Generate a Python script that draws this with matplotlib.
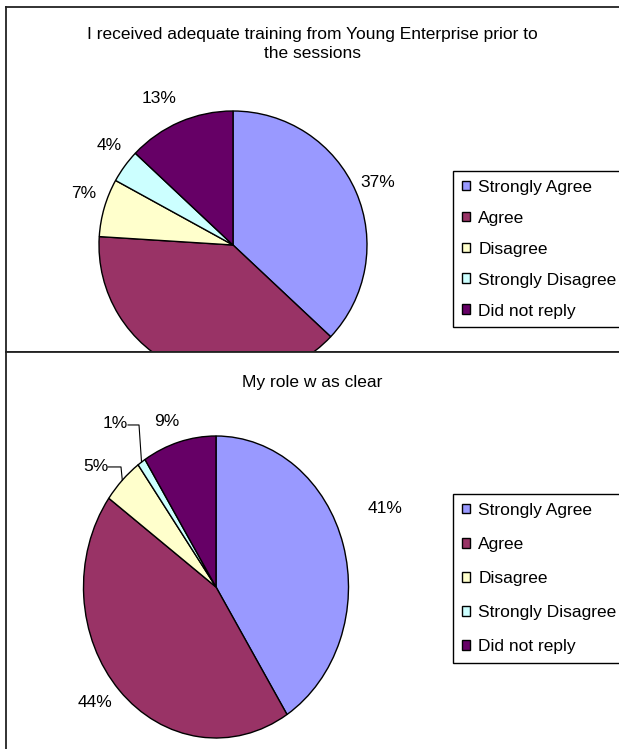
import matplotlib
matplotlib.use('Agg')
from matplotlib import pyplot as plt
import numpy as np

plt.rcParams['font.family'] = ['Liberation Sans', 'DejaVu Sans']

categories = ['Strongly Agree', 'Agree', 'Disagree', 'Strongly Disagree', 'Did not reply']
colors = ['#9999ff', '#993366', '#ffffcc', '#ccffff', '#660066']

title1 = 'I received adequate training from Young Enterprise prior to\nthe sessions'
values1 = [37, 39, 7, 4, 13]

title2 = 'My role w as clear'
values2 = [41, 44, 5, 1, 9]

W, H = 619, 749
FS = 12.5
fig = plt.figure(figsize=(W / 100, H / 100), dpi=100)


def px_axes(x0, y0, x1, y1):
    return fig.add_axes([x0 / W, 1 - y1 / H, (x1 - x0) / W, (y1 - y0) / H])


def edge_point(values, i):
    # point on the rim at the middle of slice i (clockwise from 12 o'clock)
    frac = (sum(values[:i]) + values[i] / 2) / sum(values)
    a = 2 * np.pi * frac
    return np.sin(a), np.cos(a)


def panel(box, centre, radii, values, title, title_y, label_pos, leaders,
          leg_top, leg_spacing):
    x0, y0, x1, y1 = box
    cx, cy = centre
    rx, ry = radii
    ax = px_axes(x0, y0, x1, y1)
    wedges, _ = ax.pie(values, colors=colors, startangle=90, counterclock=False,
                       radius=1, frame=True,
                       wedgeprops=dict(edgecolor='black', linewidth=1))
    ax.set_aspect('auto')
    ax.set_xlim((x0 - cx) / rx, (x1 - cx) / rx)
    ax.set_ylim((cy - y1) / ry, (cy - y0) / ry)
    ax.set_xticks([])
    ax.set_yticks([])
    for s in ax.spines.values():
        s.set_color('#222222')
        s.set_linewidth(1.3)
    ax.spines['right'].set_visible(False)

    for v, (ux, uy) in zip(values, label_pos):
        ax.text(ux, uy, f'{v}%', ha='center', va='center', fontsize=FS, clip_on=True)

    for i, (sx, kx, ly) in leaders.items():
        ex, ey = edge_point(values, i)
        ax.plot([sx, kx, ex], [ly, ly, ey], color='black', lw=0.8)

    fig.text(312 / W, 1 - title_y / H, title, ha='center', va='center',
             fontsize=FS, linespacing=1.25)

    leg = ax.legend(wedges, categories, loc='upper left',
                    bbox_to_anchor=(453 / W, 1 - leg_top / H),
                    bbox_transform=fig.transFigure, borderaxespad=0,
                    frameon=True, fancybox=False, edgecolor='black',
                    framealpha=1, fontsize=FS, handlelength=0.5,
                    handleheight=0.5, handletextpad=0.45,
                    labelspacing=leg_spacing, borderpad=0.5)
    leg.get_frame().set_linewidth(1)
    return ax


# top chart: circle, clipped by the divider
panel(box=(6, 7, 630, 352), centre=(233, 245), radii=(134, 134),
      values=values1, title=title1, title_y=44,
      label_pos=[(1.082, 0.463), (0.0, -1.3), (-1.112, 0.388),
                 (-0.925, 0.739), (-0.552, 1.090)],
      leaders={}, leg_top=171, leg_spacing=0.92)

# bottom chart: slightly stretched vertically
panel(box=(6, 352, 630, 760), centre=(216, 587), radii=(132.5, 151),
      values=values2, title=title2, title_y=382,
      label_pos=[(1.275, 0.523), (-0.913, -0.768), (-0.906, 0.795),
                 (-0.762, 1.086), (-0.370, 1.099)],
      leaders={2: (-0.815, -0.717, 0.795), 3: (-0.664, -0.581, 1.073)},
      leg_top=494, leg_spacing=1.1)

fig.savefig('out.png', dpi=100)
